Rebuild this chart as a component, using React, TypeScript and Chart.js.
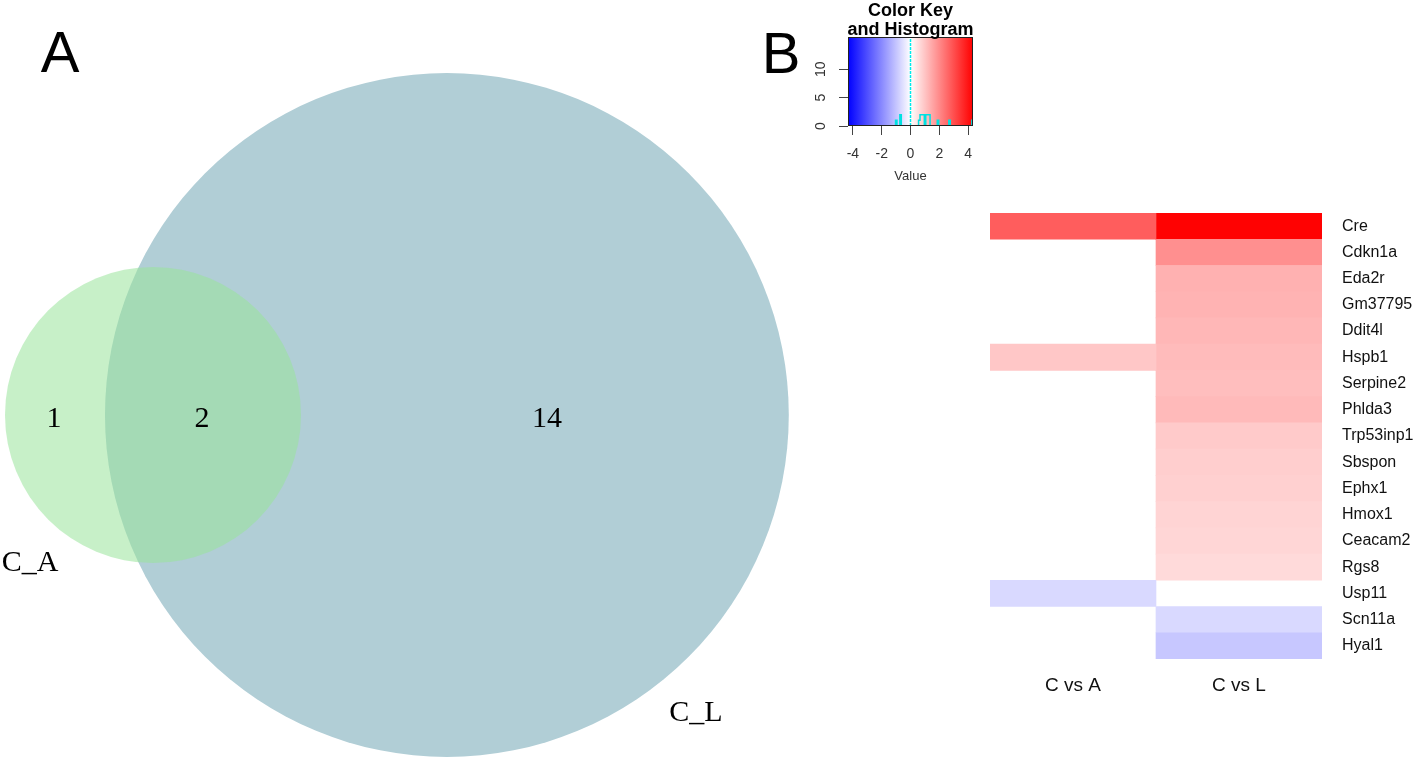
import React, { useEffect, useRef } from 'react';
import { Chart, registerables } from 'chart.js';
Chart.register(...registerables);

// ---------- Panel A: Venn diagram ----------
const vennSetNames = ['C_A', 'C_L'];
const vennCenterX = [0, 1.94];
const vennCenterY = [0, 0];
const vennRadius = [0.977, 2.257];
const vennFill = ['rgba(153,228,155,0.55)', 'rgb(177,206,214)'];
const vennCountText = ['1', '2', '14'];
const vennCountX = [-0.654, 0.323, 2.601];
const vennCountY = [-0.026, -0.026, -0.026];
const vennSetLabelX = [-0.812, 3.584];
const vennSetLabelY = [-0.977, -1.967];

// ---------- Panel B: heatmap ----------
const genes = ['Cre', 'Cdkn1a', 'Eda2r', 'Gm37795', 'Ddit4l', 'Hspb1', 'Serpine2', 'Phlda3', 'Trp53inp1', 'Sbspon', 'Ephx1', 'Hmox1', 'Ceacam2', 'Rgs8', 'Usp11', 'Scn11a', 'Hyal1'];
const comparisons = ['C vs A', 'C vs L'];
const cVsA: (number | null)[] = [2.75, null, null, null, null, 0.95, null, null, null, null, null, null, null, null, -0.65, null, null];
const cVsL: (number | null)[] = [4.3, 1.9, 1.33, 1.3, 1.22, 1.15, 1.1, 1.18, 0.9, 0.84, 0.8, 0.74, 0.7, 0.63, null, -0.65, -0.95];
const keyMax = 4.34;
const keyTicks = [-4, -2, 0, 2, 4];
const countTicks = [0, 5, 10];
const histBinWidth = 0.1;
const vlineValue = 0;

function heatColor(v: number | null): string {
  if (v == null) return 'rgba(0,0,0,0)';
  const t = Math.min(1, Math.abs(v) / keyMax);
  const c = Math.round(255 * (1 - t));
  return v >= 0 ? `rgb(255,${c},${c})` : `rgb(${c},${c},255)`;
}

function histogram() {
  const vals = [...cVsA, ...cVsL].filter((v): v is number => v != null);
  const n = Math.ceil((2 * keyMax) / histBinWidth);
  const counts = new Array(n).fill(0);
  vals.forEach((v) => {
    let i = Math.floor((v + keyMax) / histBinWidth);
    if (i >= n) i = n - 1;
    if (i < 0) i = 0;
    counts[i]++;
  });
  const pts = counts.map((c, i) => ({ x: -keyMax + i * histBinWidth, y: c }));
  pts.push({ x: keyMax, y: counts[n - 1] });
  return pts;
}

const FONT_SANS = "'Liberation Sans', Arial, sans-serif";
const FONT_SERIF = "'Liberation Serif', 'Times New Roman', serif";

export default function App() {
  const vennRef = useRef<HTMLCanvasElement>(null);
  const keyRef = useRef<HTMLCanvasElement>(null);
  const heatRef = useRef<HTMLCanvasElement>(null);

  useEffect(() => {
    const charts: Chart[] = [];

    // Venn
    const vennCircles = {
      id: 'vennCircles',
      beforeDatasetsDraw(chart: any) {
        const { ctx, scales } = chart;
        const sx = scales.x, sy = scales.y;
        const unit = sx.getPixelForValue(1) - sx.getPixelForValue(0);
        ctx.save();
        // draw the larger set first so the smaller translucent one overlays it
        const order = vennRadius.map((r, i) => i).sort((a, b) => vennRadius[b] - vennRadius[a]);
        order.forEach((i) => {
          ctx.beginPath();
          ctx.arc(sx.getPixelForValue(vennCenterX[i]), sy.getPixelForValue(vennCenterY[i]), vennRadius[i] * unit, 0, Math.PI * 2);
          ctx.fillStyle = vennFill[i];
          ctx.fill();
        });
        ctx.restore();
      },
      afterDatasetsDraw(chart: any) {
        const { ctx, scales } = chart;
        const sx = scales.x, sy = scales.y;
        ctx.save();
        ctx.fillStyle = '#000';
        ctx.font = `30px ${FONT_SERIF}`;
        ctx.textAlign = 'center';
        ctx.textBaseline = 'middle';
        vennCountText.forEach((t, i) => {
          ctx.fillText(t, sx.getPixelForValue(vennCountX[i]), sy.getPixelForValue(vennCountY[i]));
        });
        vennSetNames.forEach((t, i) => {
          ctx.fillText(t, sx.getPixelForValue(vennSetLabelX[i]), sy.getPixelForValue(vennSetLabelY[i]));
        });
        ctx.font = `58px ${FONT_SANS}`;
        ctx.textBaseline = 'alphabetic';
        ctx.fillText('A', 60, 72);
        ctx.fillText('B', 781, 73);
        ctx.restore();
      },
    };
    charts.push(
      new Chart(vennRef.current!, {
        type: 'scatter',
        data: {
          datasets: vennSetNames.map((name, i) => ({
            label: name,
            data: [{ x: vennCenterX[i], y: vennCenterY[i] }],
            pointRadius: 0,
          })),
        },
        options: {
          animation: false,
          responsive: false,
          events: [],
          layout: { padding: 0 },
          plugins: { legend: { display: false }, tooltip: { enabled: false } },
          scales: {
            x: { type: 'linear', display: false, min: -1.01, max: 4.403 },
            y: { type: 'linear', display: false, min: -2.297, max: 2.739 },
          },
        },
        plugins: [vennCircles],
      } as any)
    );

    // Color key
    const keyDecor = {
      id: 'keyDecor',
      beforeDatasetsDraw(chart: any) {
        const { ctx, chartArea: a, scales } = chart;
        const x0 = scales.x.getPixelForValue(-keyMax);
        const x1 = scales.x.getPixelForValue(keyMax);
        const g = ctx.createLinearGradient(x0, 0, x1, 0);
        g.addColorStop(0, 'rgb(0,0,255)');
        g.addColorStop(0.5, 'rgb(255,255,255)');
        g.addColorStop(1, 'rgb(255,0,0)');
        ctx.save();
        ctx.fillStyle = g;
        ctx.fillRect(a.left, a.top, a.right - a.left, a.bottom - a.top);
        ctx.restore();
      },
      afterDatasetsDraw(chart: any) {
        const { ctx, chartArea: a } = chart;
        ctx.save();
        ctx.strokeStyle = '#222';
        ctx.lineWidth = 1;
        ctx.strokeRect(a.left + 0.5, a.top + 0.5, a.right - a.left - 1, a.bottom - a.top - 1);
        ctx.fillStyle = '#000';
        ctx.font = `bold 18px ${FONT_SANS}`;
        ctx.textAlign = 'center';
        ctx.textBaseline = 'alphabetic';
        const cx = (a.left + a.right) / 2;
        ctx.fillText('Color Key', cx, 16);
        ctx.fillText('and Histogram', cx, 35);
        ctx.restore();
      },
    };
    charts.push(
      new Chart(keyRef.current!, {
        type: 'scatter',
        data: {
          datasets: [
            {
              data: histogram(),
              showLine: true,
              stepped: 'before',
              borderColor: 'rgb(0,225,225)',
              borderWidth: 1.5,
              pointRadius: 0,
            },
            {
              data: [{ x: vlineValue, y: 0 }, { x: vlineValue, y: 15.7 }],
              showLine: true,
              borderColor: 'rgb(0,235,235)',
              borderWidth: 1.5,
              borderDash: [3, 1],
              pointRadius: 0,
            },
          ],
        },
        options: {
          animation: false,
          responsive: false,
          events: [],
          layout: { padding: { top: 37, right: 17, left: 0, bottom: 0 } },
          plugins: { legend: { display: false }, tooltip: { enabled: false } },
          scales: {
            x: {
              type: 'linear',
              min: -keyMax,
              max: keyMax,
              afterBuildTicks: (s: any) => { s.ticks = keyTicks.map((v) => ({ value: v })); },
              afterFit: (s: any) => { s.height = 64; },
              grid: { drawOnChartArea: false, drawTicks: true, tickLength: 9, color: '#444' },
              border: { display: false },
              ticks: { font: { family: FONT_SANS, size: 14 }, color: '#333', padding: 11, maxRotation: 0 },
              title: { display: true, text: 'Value', font: { family: FONT_SANS, size: 13 }, color: '#333', padding: { top: 0, bottom: 6 } },
            },
            y: {
              type: 'linear',
              min: 0,
              max: 15.7,
              afterBuildTicks: (s: any) => { s.ticks = countTicks.map((v) => ({ value: v })); },
              afterFit: (s: any) => { s.width = 88; },
              grid: { drawOnChartArea: false, drawTicks: true, tickLength: 9, color: '#444' },
              border: { display: false },
              ticks: { font: { family: FONT_SANS, size: 14 }, color: '#333', padding: 10, minRotation: 90, maxRotation: 90, crossAlign: 'center' },
            },
          },
        },
        plugins: [keyDecor],
      } as any)
    );

    // Heatmap
    const columns = [cVsA, cVsL];
    charts.push(
      new Chart(heatRef.current!, {
        type: 'bar',
        data: {
          labels: genes,
          datasets: columns.map((col, j) => ({
            label: comparisons[j],
            data: col.map((v) => (v == null ? null : [j, j + 1])) as any,
            backgroundColor: (ctx: any) => heatColor(col[ctx.dataIndex]),
            borderWidth: 0,
            barPercentage: 1,
            categoryPercentage: 1,
          })),
        },
        options: {
          indexAxis: 'y',
          animation: false,
          responsive: false,
          events: [],
          layout: { padding: { left: 10, top: 18, right: 0, bottom: 0 }, autoPadding: false },
          plugins: { legend: { display: false }, tooltip: { enabled: false } },
          datasets: { bar: { grouped: false } },
          scales: {
            x: {
              type: 'linear',
              min: 0,
              max: comparisons.length,
              afterBuildTicks: (s: any) => { s.ticks = comparisons.map((_, i) => ({ value: i + 0.5 })); },
              afterFit: (s: any) => { s.height = 56; s.paddingLeft = 0; s.paddingRight = 0; },
              grid: { display: false },
              border: { display: false },
              ticks: {
                font: { family: FONT_SANS, size: 19 },
                color: '#111',
                padding: 7,
                maxRotation: 0,
                callback: (v: any) => comparisons[Math.floor(v)],
              },
            },
            y: {
              type: 'category',
              position: 'right',
              afterFit: (s: any) => { s.width = 96; s.paddingTop = 0; s.paddingBottom = 0; },
              grid: { display: false },
              border: { display: false },
              ticks: { font: { family: FONT_SANS, size: 16 }, color: '#111', padding: 12, autoSkip: false },
            },
          },
        },
      } as any)
    );

    return () => charts.forEach((c) => c.destroy());
  }, []);

  return (
    <div style={{ position: 'fixed', left: 0, top: 0, width: 1418, height: 763, background: '#fff', overflow: 'hidden' }}>
      <canvas ref={vennRef} width={820} height={763} style={{ position: 'absolute', left: 0, top: 0 }} />
      <canvas ref={keyRef} width={230} height={190} style={{ position: 'absolute', left: 760, top: 0 }} />
      <canvas ref={heatRef} width={438} height={520} style={{ position: 'absolute', left: 980, top: 195 }} />
    </div>
  );
}
